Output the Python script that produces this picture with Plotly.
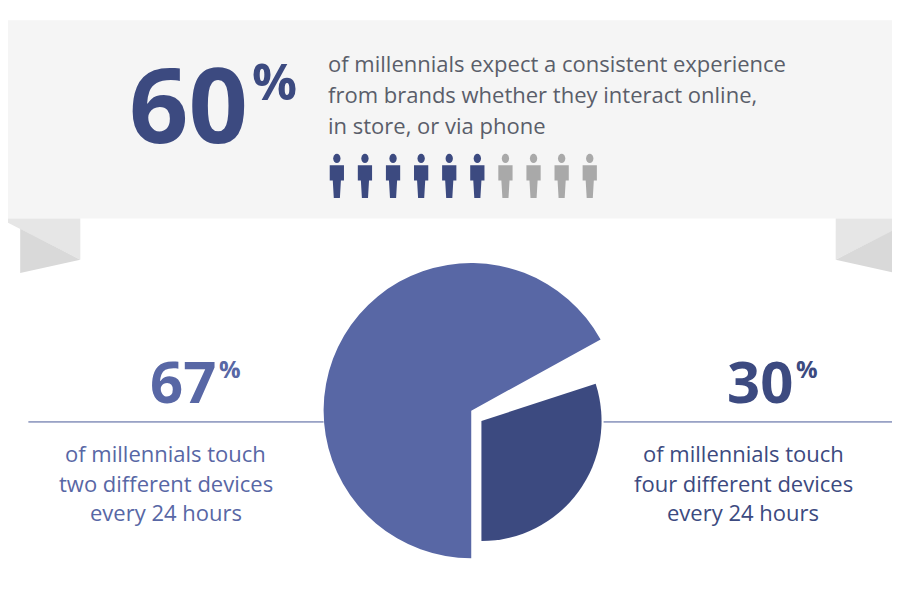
import plotly.graph_objects as go

# data
people_total = 10
people_share = 6
device_labels = ['two devices', 'gap', 'four devices']
device_values = [67, 3, 30]
headline = '60'
left_pct = '67'
right_pct = '30'
headline_text = ['of millennials expect a consistent experience',
                 'from brands whether they interact online,',
                 'in store, or via phone']
left_text = ['of millennials touch', 'two different devices', 'every 24 hours']
right_text = ['of millennials touch', 'four different devices', 'every 24 hours']

W, H = 900, 605
# the plot area ends up inset by 8px on each side, so map pixels onto it
L, T, R, B = 8, 8, 892, 597
DARK = '#3c4a80'
MID = '#5867a5'
GREY_TXT = '#5a5e6a'
FONT = 'Open Sans'


def fx(px):
    return (px - L) / (R - L)


def fy(py):
    return 1 - (py - T) / (B - T)


fig = go.Figure()

# big slice and the smaller pulled slice are drawn as two pies with different radii
fig.add_trace(go.Pie(
    values=device_values, labels=device_labels, sort=False, direction='clockwise',
    rotation=180, textinfo='none', hoverinfo='skip', showlegend=False,
    marker=dict(colors=[MID, 'rgba(0,0,0,0)', 'rgba(0,0,0,0)'], line=dict(width=0)),
    domain=dict(x=[fx(318), fx(608)], y=[fy(545), fy(255)])))
fig.add_trace(go.Pie(
    values=device_values, labels=device_labels, sort=False, direction='clockwise',
    rotation=180, textinfo='none', hoverinfo='skip', showlegend=False,
    marker=dict(colors=['rgba(0,0,0,0)', 'rgba(0,0,0,0)', DARK], line=dict(width=0)),
    domain=dict(x=[fx(355), fx(591)], y=[fy(528), fy(292)])))


def poly(pts):
    return 'M' + ' L'.join(f'{fx(x):.5f},{fy(y):.5f}' for x, y in pts) + ' Z'


shapes = []
# banner
shapes.append(dict(type='rect', x0=fx(0), x1=fx(900), y0=fy(20), y1=fy(213),
                   fillcolor='#f5f5f5', line_width=0, layer='below'))
for side in (1, -1):
    def px(x):
        return x if side == 1 else W - x
    shapes.append(dict(type='path', path=poly([(px(0), 213), (px(79), 213), (px(79), 253)]),
                       fillcolor='#e6e6e6', line_width=0, layer='below'))
    shapes.append(dict(type='path', path=poly([(px(20), 223), (px(79), 253), (px(20), 266)]),
                       fillcolor='#d9d9d9', line_width=0, layer='below'))

# people icons
for i in range(people_total):
    cx = 331 + i * 27.6
    col = DARK if i < people_share else '#a9a9a9'
    shapes.append(dict(type='circle', x0=fx(cx - 3.6), x1=fx(cx + 3.6), y0=fy(150), y1=fy(159),
                       fillcolor=col, line_width=0))
    shapes.append(dict(type='path',
                       path=poly([(cx - 7, 161), (cx + 7, 161), (cx + 7, 176), (cx + 4, 176),
                                  (cx + 3, 193), (cx - 3, 193), (cx - 4, 176), (cx - 7, 176)]),
                       fillcolor=col, line_width=0))

# divider lines
for x0, x1 in ((28, 318), (593, 895)):
    shapes.append(dict(type='line', x0=fx(x0), x1=fx(x1), y0=fy(411), y1=fy(411),
                       line=dict(color='#4a5a98', width=1)))
for s in shapes:
    s.update(xref='paper', yref='paper')

ann = []
ann.append(dict(x=246, y=100, text=f'<b>{headline}</b>', xanchor='right', yanchor='middle',
                font=dict(size=104, color=DARK, family=FONT)))
ann.append(dict(x=246, y=44, text='<b>%</b>', xanchor='left', yanchor='top',
                font=dict(size=50, color=DARK, family=FONT)))
for j, t in enumerate(headline_text):
    ann.append(dict(x=320, y=62 + j * 30, text=t, xanchor='left', yanchor='middle',
                    font=dict(size=22, color=GREY_TXT, family=FONT)))

for cx, pct, lines, col in ((163, left_pct, left_text, MID), (730, right_pct, right_text, DARK)):
    ann.append(dict(x=cx + 51, y=371, text=f'<b>{pct}</b>', xanchor='right', yanchor='middle',
                    font=dict(size=58, color=col, family=FONT)))
    ann.append(dict(x=cx + 50, y=341, text='<b>%</b>', xanchor='left', yanchor='top',
                    font=dict(size=24, color=col, family=FONT)))
    for j, t in enumerate(lines):
        ann.append(dict(x=cx, y=441 + j * 29, text=t, xanchor='center', yanchor='middle',
                        font=dict(size=22, color=col, family=FONT)))

for a in ann:
    a.update(xref='x', yref='y', showarrow=False)

fig.update_layout(
    width=W, height=H, margin=dict(l=0, r=0, t=0, b=0),
    paper_bgcolor='white', plot_bgcolor='rgba(0,0,0,0)',
    xaxis=dict(range=[L, R], visible=False, fixedrange=True),
    yaxis=dict(range=[B, T], visible=False, fixedrange=True),
    shapes=shapes, annotations=ann, showlegend=False)

fig.write_html('out.html')
